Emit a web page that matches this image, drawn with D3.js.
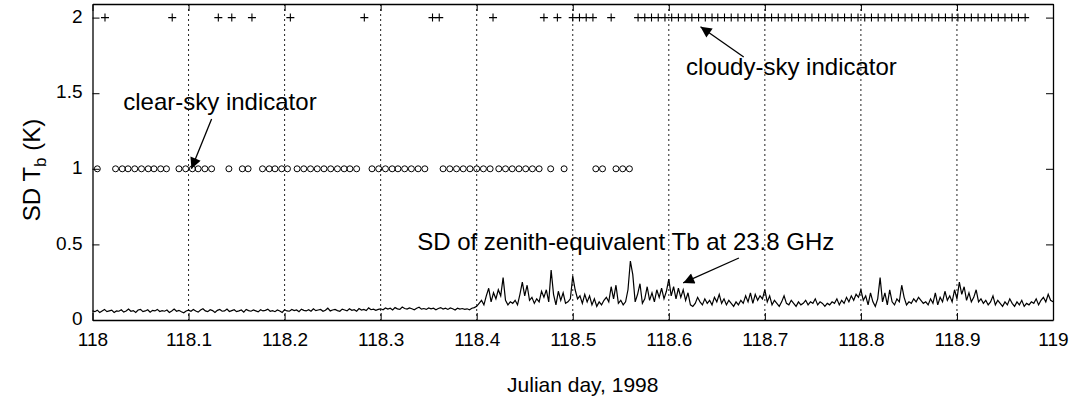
<!DOCTYPE html>
<html>
<head>
<meta charset="utf-8">
<script src="https://cdn.jsdelivr.net/npm/d3@7"></script>
<style>
  body { margin: 0; background: #fff; }
  svg { display: block; font-family: "Liberation Sans", Arial, sans-serif; }
</style>
</head>
<body>
<div id="chart"></div>
<script>
// tick values
const xTicks = [118, 118.1, 118.2, 118.3, 118.4, 118.5, 118.6, 118.7, 118.8, 118.9, 119];
const yTicks = [0, 0.5, 1, 1.5, 2];

// cloudy-sky indicator (plotted at 2), Julian day
const cloudyDays = [
  118.013, 118.083, 118.131, 118.145, 118.166, 118.206, 118.283, 118.354, 118.361,
  118.417, 118.470, 118.484, 118.500, 118.507, 118.514, 118.521, 118.540,
  118.568, 118.575, 118.582, 118.589, 118.596, 118.603, 118.610, 118.617, 118.624,
  118.631, 118.638, 118.645, 118.651, 118.658, 118.665, 118.672, 118.679, 118.686,
  118.693, 118.700, 118.707, 118.714, 118.721, 118.728, 118.735, 118.742, 118.749,
  118.756, 118.763, 118.770, 118.776, 118.783, 118.790, 118.797, 118.804, 118.811,
  118.818, 118.825, 118.832, 118.839, 118.846, 118.853, 118.860, 118.867, 118.874,
  118.881, 118.888, 118.895, 118.901, 118.908, 118.915, 118.922, 118.929, 118.936,
  118.943, 118.950, 118.957, 118.964, 118.971
];

// clear-sky indicator (plotted at 1), Julian day
const clearDays = [
  118.005,
  118.024, 118.031, 118.037, 118.044, 118.051, 118.058, 118.064, 118.071, 118.077,
  118.090, 118.097, 118.104, 118.110, 118.117, 118.124,
  118.142, 118.156, 118.162,
  118.177, 118.184, 118.190, 118.197, 118.203,
  118.213, 118.220, 118.227, 118.234, 118.241, 118.248, 118.255, 118.262, 118.268, 118.275,
  118.291, 118.298, 118.305, 118.312, 118.318, 118.325, 118.332, 118.339, 118.346,
  118.365, 118.372, 118.379, 118.386, 118.393, 118.400, 118.407, 118.414,
  118.423, 118.430, 118.437, 118.444, 118.451, 118.458, 118.465,
  118.477, 118.491,
  118.524, 118.531,
  118.545, 118.552, 118.559
];

// SD of zenith-equivalent Tb at 23.8 GHz (K), sampled every 0.0025 day from 118
const sdStart = 118;
const sdStep = 0.0025;
const sdValues = [
  0.06,0.055,0.065,0.05,0.06,0.07,0.055,0.06,0.065,0.05,
  0.06,0.058,0.068,0.052,0.06,0.072,0.058,0.062,0.05,0.066,
  0.07,0.055,0.06,0.068,0.052,0.064,0.06,0.07,0.056,0.062,
  0.058,0.066,0.05,0.06,0.072,0.058,0.064,0.055,0.048,0.06,
  0.065,0.058,0.07,0.06,0.052,0.066,0.074,0.06,0.055,0.068,
  0.062,0.05,0.064,0.07,0.058,0.06,0.072,0.056,0.062,0.068,
  0.055,0.06,0.066,0.052,0.07,0.062,0.058,0.066,0.06,0.054,
  0.068,0.06,0.064,0.072,0.058,0.062,0.055,0.066,0.06,0.05,
  0.068,0.06,0.058,0.07,0.062,0.066,0.055,0.072,0.064,0.06,
  0.068,0.058,0.074,0.062,0.066,0.07,0.058,0.064,0.078,0.06,
  0.066,0.07,0.062,0.058,0.072,0.066,0.06,0.074,0.064,0.068,
  0.058,0.076,0.066,0.07,0.062,0.08,0.068,0.072,0.064,0.07,
  0.074,0.068,0.08,0.072,0.078,0.066,0.082,0.074,0.07,0.086,
  0.076,0.072,0.08,0.074,0.068,0.078,0.084,0.072,0.076,0.07,
  0.08,0.074,0.078,0.068,0.076,0.082,0.072,0.078,0.07,0.08,
  0.074,0.066,0.078,0.072,0.076,0.07,0.074,0.068,0.078,0.082,
  // 118.4
  0.09,0.11,0.13,0.10,0.16,0.21,0.12,0.18,0.14,0.20,
  0.16,0.28,0.13,0.10,0.12,0.11,0.13,0.10,0.17,0.25,
  0.16,0.23,0.13,0.15,0.11,0.14,0.12,0.19,0.15,0.20,
  0.12,0.33,0.17,0.10,0.19,0.13,0.18,0.11,0.12,0.14,
  // 118.5
  0.29,0.20,0.14,0.16,0.11,0.17,0.12,0.16,0.10,0.14,
  0.09,0.12,0.10,0.13,0.15,0.12,0.22,0.14,0.23,0.11,
  0.13,0.10,0.12,0.20,0.39,0.30,0.12,0.17,0.24,0.11,
  0.14,0.22,0.13,0.18,0.12,0.20,0.15,0.21,0.14,0.19,
  // 118.6
  0.27,0.16,0.22,0.14,0.21,0.15,0.20,0.13,0.18,0.10,
  0.09,0.11,0.15,0.12,0.10,0.14,0.11,0.13,0.10,0.15,
  0.12,0.17,0.11,0.14,0.10,0.13,0.11,0.09,0.12,0.10,
  0.13,0.11,0.16,0.12,0.18,0.11,0.17,0.13,0.16,0.14,
  // 118.7
  0.20,0.12,0.16,0.10,0.13,0.11,0.09,0.12,0.16,0.11,
  0.10,0.13,0.11,0.09,0.12,0.10,0.11,0.13,0.10,0.12,
  0.11,0.14,0.10,0.12,0.11,0.09,0.11,0.10,0.12,0.11,
  0.14,0.10,0.13,0.11,0.15,0.12,0.16,0.13,0.17,0.15,
  // 118.8
  0.20,0.13,0.16,0.10,0.18,0.12,0.09,0.14,0.28,0.12,
  0.18,0.10,0.20,0.12,0.10,0.14,0.12,0.23,0.15,0.10,
  0.12,0.11,0.14,0.12,0.15,0.13,0.11,0.12,0.10,0.14,
  0.11,0.18,0.10,0.15,0.12,0.19,0.13,0.16,0.12,0.20,
  // 118.9
  0.14,0.25,0.17,0.22,0.13,0.18,0.12,0.15,0.20,0.12,
  0.14,0.11,0.13,0.10,0.12,0.16,0.10,0.13,0.11,0.09,
  0.12,0.10,0.14,0.11,0.09,0.12,0.10,0.13,0.09,0.11,
  0.10,0.12,0.11,0.14,0.10,0.13,0.15,0.12,0.17,0.13,
  0.12
];

// annotations: text anchor [day, K] and arrow [tail, tip]
const labels = [
  { text: "clear-sky indicator", at: [118.032, 1.39] },
  { text: "cloudy-sky indicator", at: [118.618, 1.62] },
  { text: "SD of zenith-equivalent Tb at 23.8 GHz", at: [118.338, 0.46] }
];
const arrows = [
  { from: [118.124, 1.33], to: [118.103, 1.0] },
  { from: [118.678, 1.74], to: [118.633, 1.94] },
  { from: [118.673, 0.41], to: [118.615, 0.245] }
];

const width = 1076, height = 404;
const margin = { top: 4, right: 23, bottom: 84, left: 92.5 };
const innerW = width - margin.left - margin.right;
const innerH = height - margin.top - margin.bottom;

const x = d3.scaleLinear([118, 119], [margin.left, margin.left + innerW]);
const y = d3.scaleLinear([0, 2.09], [margin.top + innerH, margin.top]);

const svg = d3.select("#chart")
  .append("svg")
  .attr("width", width)
  .attr("height", height);

svg.append("defs")
  .append("marker")
  .attr("id", "head")
  .attr("viewBox", "0 0 10 10")
  .attr("refX", 10)
  .attr("refY", 5)
  .attr("markerWidth", 15)
  .attr("markerHeight", 11)
  .attr("markerUnits", "userSpaceOnUse")
  .attr("orient", "auto")
  .append("path")
  .attr("d", "M0,0 L10,5 L0,10 Z")
  .attr("fill", "#000");

// vertical dotted grid
svg.append("g")
  .selectAll("line")
  .data(xTicks.slice(1, -1))
  .join("line")
  .attr("x1", (d) => x(d))
  .attr("x2", (d) => x(d))
  .attr("y1", margin.top)
  .attr("y2", margin.top + innerH)
  .attr("stroke", "#222")
  .attr("stroke-width", 1)
  .attr("stroke-dasharray", "2,3");

// axes (ticks inward, matlab style)
const fmt = d3.format("~g");
const styleAxis = (g) => {
  g.attr("font-family", null).attr("font-size", 19);
  g.selectAll("text").attr("fill", "#000");
  g.selectAll("line").attr("stroke", "#000");
  g.select(".domain").attr("stroke", "#000").attr("stroke-width", 1.3);
};

svg.append("g")
  .attr("transform", `translate(0,${margin.top + innerH})`)
  .call(d3.axisBottom(x).tickValues(xTicks).tickFormat(fmt).tickSizeInner(-7).tickSizeOuter(0).tickPadding(13))
  .call(styleAxis);

svg.append("g")
  .attr("transform", `translate(0,${margin.top})`)
  .call(d3.axisTop(x).tickValues(xTicks).tickFormat("").tickSizeInner(-7).tickSizeOuter(0))
  .call(styleAxis);

svg.append("g")
  .attr("transform", `translate(${margin.left},0)`)
  .call(d3.axisLeft(y).tickValues(yTicks).tickFormat(fmt).tickSizeInner(-7).tickSizeOuter(0).tickPadding(10))
  .call(styleAxis)
  .call((g) => g.selectAll("text").attr("dy", "0.25em"));

svg.append("g")
  .attr("transform", `translate(${margin.left + innerW},0)`)
  .call(d3.axisRight(y).tickValues(yTicks).tickFormat("").tickSizeInner(-7).tickSizeOuter(0))
  .call(styleAxis);

// SD line
const line = d3.line()
  .x((d, i) => x(sdStart + i * sdStep))
  .y((d) => y(d));

svg.append("path")
  .attr("d", line(sdValues))
  .attr("fill", "none")
  .attr("stroke", "#000")
  .attr("stroke-width", 1.2);

// clear-sky circles
svg.append("g")
  .selectAll("circle")
  .data(clearDays)
  .join("circle")
  .attr("cx", (d) => x(d))
  .attr("cy", y(1))
  .attr("r", 3)
  .attr("fill", "none")
  .attr("stroke", "#000")
  .attr("stroke-width", 1);

// cloudy-sky pluses
svg.append("g")
  .selectAll("path")
  .data(cloudyDays)
  .join("path")
  .attr("d", (d) => `M${x(d) - 4},${y(2)}H${x(d) + 4}M${x(d)},${y(2) - 4}V${y(2) + 4}`)
  .attr("stroke", "#000")
  .attr("stroke-width", 1.1);

// annotations
svg.append("g")
  .selectAll("text")
  .data(labels)
  .join("text")
  .attr("x", (d) => x(d.at[0]))
  .attr("y", (d) => y(d.at[1]))
  .attr("font-size", 24)
  .attr("fill", "#000")
  .text((d) => d.text);

svg.append("g")
  .selectAll("line")
  .data(arrows)
  .join("line")
  .attr("x1", (d) => x(d.from[0]))
  .attr("y1", (d) => y(d.from[1]))
  .attr("x2", (d) => x(d.to[0]))
  .attr("y2", (d) => y(d.to[1]))
  .attr("stroke", "#000")
  .attr("stroke-width", 1.3)
  .attr("marker-end", "url(#head)");

// axis titles
svg.append("text")
  .attr("x", margin.left + innerW / 2 + 10)
  .attr("y", 392)
  .attr("text-anchor", "middle")
  .attr("font-size", 21)
  .text("Julian day, 1998");

const yTitle = svg.append("text")
  .attr("transform", `translate(40,${margin.top + innerH / 2 + 8}) rotate(-90)`)
  .attr("text-anchor", "middle")
  .attr("font-size", 24);
yTitle.append("tspan").text("SD T");
yTitle.append("tspan").attr("dy", 6).attr("font-size", 17).text("b");
yTitle.append("tspan").attr("dy", -6).text(" (K)");
</script>
</body>
</html>
